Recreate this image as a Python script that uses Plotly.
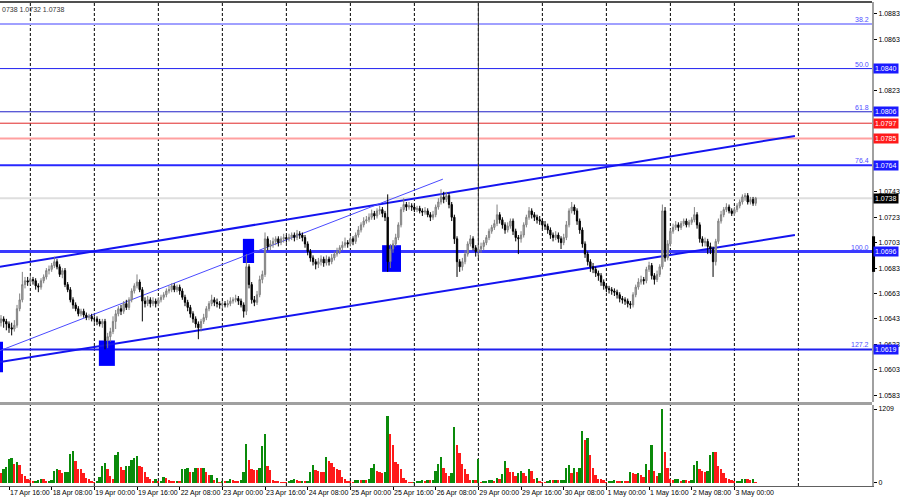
import plotly.graph_objects as go

# ---------------- data (EURUSD H1, 17 Apr 13:00 -> 3 May 08:00) ----------------
first_open = 1.0640
closes = [
    1.0643, 1.0641, 1.0639, 1.0636, 1.0635, 1.0638, 1.0651, 1.0658, 1.0670, 1.0673,
    1.0672, 1.0674, 1.0673, 1.0669, 1.0668, 1.0673, 1.0676, 1.0681, 1.0682, 1.0685,
    1.0688, 1.0684, 1.0678, 1.0681, 1.0670, 1.0666, 1.0658, 1.0654, 1.0651, 1.0647,
    1.0649, 1.0646, 1.0644, 1.0645, 1.0643, 1.0643, 1.0641, 1.0639, 1.0641, 1.0626,
    1.0629, 1.0633, 1.0641, 1.0647, 1.0651, 1.0649, 1.0655, 1.0652, 1.0658, 1.0665,
    1.0669, 1.0672, 1.0666, 1.0657, 1.0655, 1.0658, 1.0655, 1.0657, 1.0655, 1.0658,
    1.0660, 1.0662, 1.0665, 1.0666, 1.0669, 1.0666, 1.0668, 1.0665, 1.0660, 1.0656,
    1.0652, 1.0647, 1.0643, 1.0639, 1.0636, 1.0641, 1.0644, 1.0651, 1.0655, 1.0658,
    1.0656, 1.0655, 1.0654, 1.0655, 1.0654, 1.0655, 1.0657, 1.0658, 1.0659, 1.0657,
    1.0654, 1.0649, 1.0684, 1.0670, 1.0658, 1.0656, 1.0662, 1.0674, 1.0678, 1.0706,
    1.0700, 1.0702, 1.0704, 1.0706, 1.0703, 1.0706, 1.0707, 1.0706, 1.0707, 1.0709,
    1.0707, 1.0710, 1.0709, 1.0707, 1.0702, 1.0696, 1.0691, 1.0688, 1.0686, 1.0688,
    1.0690, 1.0687, 1.0690, 1.0688, 1.0691, 1.0694, 1.0696, 1.0699, 1.0701, 1.0703,
    1.0702, 1.0706, 1.0704, 1.0709, 1.0713, 1.0717, 1.0720, 1.0721, 1.0723, 1.0726,
    1.0724, 1.0728, 1.0729, 1.0726, 1.0723, 1.0688, 1.0698, 1.0702, 1.0707, 1.0717,
    1.0729, 1.0733, 1.0731, 1.0732, 1.0731, 1.0729, 1.0730, 1.0728, 1.0727, 1.0728,
    1.0725, 1.0723, 1.0725, 1.0731, 1.0735, 1.0739, 1.0737, 1.0740, 1.0733, 1.0723,
    1.0706, 1.0688, 1.0684, 1.0688, 1.0694, 1.0702, 1.0706, 1.0699, 1.0696, 1.0698,
    1.0700, 1.0703, 1.0707, 1.0712, 1.0715, 1.0718, 1.0725, 1.0721, 1.0717, 1.0713,
    1.0716, 1.0720, 1.0712, 1.0707, 1.0706, 1.0709, 1.0717, 1.0723, 1.0728, 1.0725,
    1.0723, 1.0721, 1.0720, 1.0717, 1.0716, 1.0713, 1.0709, 1.0707, 1.0709, 1.0706,
    1.0703, 1.0707, 1.0717, 1.0728, 1.0731, 1.0728, 1.0720, 1.0713, 1.0702, 1.0694,
    1.0688, 1.0684, 1.0682, 1.0679, 1.0677, 1.0672, 1.0669, 1.0667, 1.0666, 1.0665,
    1.0664, 1.0662, 1.0659, 1.0658, 1.0657, 1.0655, 1.0654, 1.0662, 1.0668, 1.0672,
    1.0674, 1.0673, 1.0682, 1.0685, 1.0677, 1.0674, 1.0678, 1.0684, 1.0728, 1.0691,
    1.0702, 1.0712, 1.0715, 1.0717, 1.0715, 1.0718, 1.0720, 1.0717, 1.0719, 1.0721,
    1.0725, 1.0717, 1.0706, 1.0703, 1.0704, 1.0700, 1.0698, 1.0688, 1.0704, 1.0720,
    1.0725, 1.0729, 1.0731, 1.0728, 1.0726, 1.0729, 1.0732, 1.0735, 1.0739, 1.0740,
    1.0735, 1.0737, 1.0734, 1.0738,
]
highs = [
    1.0646, 1.0645, 1.0643, 1.0641, 1.0640, 1.0642, 1.0654, 1.0663, 1.0680, 1.0676,
    1.0676, 1.0677, 1.0676, 1.0675, 1.0671, 1.0675, 1.0678, 1.0683, 1.0685, 1.0687,
    1.0692, 1.0690, 1.0686, 1.0683, 1.0683, 1.0672, 1.0668, 1.0660, 1.0656, 1.0653,
    1.0651, 1.0651, 1.0648, 1.0647, 1.0647, 1.0645, 1.0645, 1.0643, 1.0643, 1.0643,
    1.0632, 1.0636, 1.0645, 1.0650, 1.0653, 1.0654, 1.0657, 1.0658, 1.0660, 1.0667,
    1.0671, 1.0678, 1.0674, 1.0668, 1.0660, 1.0661, 1.0660, 1.0660, 1.0659, 1.0660,
    1.0662, 1.0664, 1.0667, 1.0669, 1.0671, 1.0671, 1.0670, 1.0670, 1.0667, 1.0662,
    1.0658, 1.0654, 1.0649, 1.0645, 1.0641, 1.0643, 1.0647, 1.0653, 1.0657, 1.0662,
    1.0660, 1.0659, 1.0657, 1.0657, 1.0657, 1.0658, 1.0660, 1.0660, 1.0662, 1.0661,
    1.0659, 1.0656, 1.0694, 1.0686, 1.0672, 1.0661, 1.0665, 1.0677, 1.0681, 1.0711,
    1.0708, 1.0705, 1.0707, 1.0708, 1.0708, 1.0708, 1.0710, 1.0709, 1.0710, 1.0711,
    1.0711, 1.0713, 1.0712, 1.0711, 1.0709, 1.0704, 1.0698, 1.0693, 1.0690, 1.0691,
    1.0693, 1.0692, 1.0693, 1.0692, 1.0694, 1.0696, 1.0699, 1.0701, 1.0704, 1.0707,
    1.0705, 1.0708, 1.0708, 1.0711, 1.0716, 1.0719, 1.0723, 1.0724, 1.0726, 1.0729,
    1.0728, 1.0730, 1.0732, 1.0731, 1.0728, 1.0741, 1.0702, 1.0705, 1.0710, 1.0719,
    1.0731, 1.0738, 1.0735, 1.0735, 1.0734, 1.0733, 1.0732, 1.0732, 1.0730, 1.0731,
    1.0730, 1.0727, 1.0728, 1.0733, 1.0738, 1.0745, 1.0743, 1.0743, 1.0742, 1.0735,
    1.0725, 1.0708, 1.0690, 1.0691, 1.0697, 1.0704, 1.0709, 1.0708, 1.0701, 1.0701,
    1.0703, 1.0705, 1.0709, 1.0714, 1.0717, 1.0721, 1.0733, 1.0727, 1.0723, 1.0719,
    1.0719, 1.0722, 1.0722, 1.0714, 1.0709, 1.0712, 1.0719, 1.0725, 1.0731, 1.0730,
    1.0727, 1.0725, 1.0724, 1.0722, 1.0720, 1.0718, 1.0715, 1.0711, 1.0712, 1.0711,
    1.0708, 1.0710, 1.0720, 1.0730, 1.0735, 1.0733, 1.0730, 1.0722, 1.0715, 1.0704,
    1.0696, 1.0690, 1.0687, 1.0684, 1.0681, 1.0679, 1.0674, 1.0671, 1.0669, 1.0668,
    1.0667, 1.0666, 1.0664, 1.0661, 1.0660, 1.0659, 1.0657, 1.0664, 1.0670, 1.0675,
    1.0677, 1.0676, 1.0684, 1.0688, 1.0687, 1.0679, 1.0681, 1.0686, 1.0733, 1.0731,
    1.0705, 1.0714, 1.0718, 1.0720, 1.0719, 1.0720, 1.0722, 1.0722, 1.0721, 1.0723,
    1.0731, 1.0727, 1.0719, 1.0708, 1.0707, 1.0706, 1.0703, 1.0700, 1.0706, 1.0722,
    1.0728, 1.0731, 1.0734, 1.0733, 1.0730, 1.0731, 1.0734, 1.0737, 1.0741, 1.0742,
    1.0742, 1.0739, 1.0739, 1.0739,
]
lows = [
    1.0637, 1.0636, 1.0634, 1.0632, 1.0630, 1.0633, 1.0636, 1.0649, 1.0656, 1.0667,
    1.0669, 1.0670, 1.0670, 1.0666, 1.0664, 1.0666, 1.0671, 1.0674, 1.0678, 1.0680,
    1.0683, 1.0682, 1.0676, 1.0675, 1.0668, 1.0664, 1.0656, 1.0651, 1.0649, 1.0645,
    1.0645, 1.0644, 1.0642, 1.0642, 1.0641, 1.0640, 1.0638, 1.0637, 1.0636, 1.0619,
    1.0620, 1.0625, 1.0631, 1.0635, 1.0645, 1.0646, 1.0647, 1.0650, 1.0650, 1.0656,
    1.0663, 1.0667, 1.0664, 1.0641, 1.0652, 1.0653, 1.0652, 1.0653, 1.0652, 1.0653,
    1.0656, 1.0658, 1.0660, 1.0663, 1.0664, 1.0664, 1.0664, 1.0662, 1.0658, 1.0653,
    1.0649, 1.0644, 1.0640, 1.0636, 1.0627, 1.0633, 1.0639, 1.0642, 1.0649, 1.0653,
    1.0653, 1.0652, 1.0651, 1.0651, 1.0652, 1.0652, 1.0653, 1.0655, 1.0656, 1.0654,
    1.0652, 1.0644, 1.0646, 1.0667, 1.0655, 1.0653, 1.0654, 1.0660, 1.0671, 1.0676,
    1.0697, 1.0697, 1.0699, 1.0701, 1.0700, 1.0701, 1.0703, 1.0703, 1.0704, 1.0705,
    1.0704, 1.0705, 1.0706, 1.0704, 1.0699, 1.0693, 1.0688, 1.0685, 1.0682, 1.0683,
    1.0685, 1.0684, 1.0685, 1.0685, 1.0686, 1.0689, 1.0692, 1.0694, 1.0697, 1.0699,
    1.0699, 1.0700, 1.0701, 1.0702, 1.0707, 1.0711, 1.0715, 1.0718, 1.0719, 1.0721,
    1.0721, 1.0722, 1.0725, 1.0723, 1.0720, 1.0680, 1.0683, 1.0695, 1.0700, 1.0705,
    1.0715, 1.0727, 1.0728, 1.0729, 1.0728, 1.0727, 1.0727, 1.0726, 1.0724, 1.0725,
    1.0723, 1.0720, 1.0721, 1.0723, 1.0729, 1.0733, 1.0734, 1.0735, 1.0730, 1.0720,
    1.0702, 1.0676, 1.0680, 1.0681, 1.0686, 1.0692, 1.0700, 1.0697, 1.0692, 1.0693,
    1.0695, 1.0697, 1.0701, 1.0705, 1.0710, 1.0713, 1.0716, 1.0718, 1.0714, 1.0710,
    1.0711, 1.0714, 1.0709, 1.0704, 1.0694, 1.0703, 1.0707, 1.0715, 1.0721, 1.0722,
    1.0720, 1.0718, 1.0717, 1.0714, 1.0713, 1.0710, 1.0706, 1.0704, 1.0705, 1.0703,
    1.0698, 1.0701, 1.0705, 1.0715, 1.0726, 1.0725, 1.0717, 1.0710, 1.0699, 1.0691,
    1.0685, 1.0680, 1.0679, 1.0676, 1.0673, 1.0669, 1.0666, 1.0664, 1.0663, 1.0662,
    1.0661, 1.0659, 1.0656, 1.0655, 1.0654, 1.0652, 1.0651, 1.0652, 1.0660, 1.0666,
    1.0670, 1.0670, 1.0671, 1.0680, 1.0674, 1.0670, 1.0672, 1.0676, 1.0682, 1.0688,
    1.0689, 1.0700, 1.0710, 1.0713, 1.0712, 1.0713, 1.0716, 1.0715, 1.0715, 1.0717,
    1.0719, 1.0714, 1.0703, 1.0700, 1.0700, 1.0694, 1.0694, 1.0676, 1.0685, 1.0702,
    1.0718, 1.0723, 1.0727, 1.0726, 1.0724, 1.0724, 1.0727, 1.0730, 1.0733, 1.0736,
    1.0733, 1.0733, 1.0732, 1.0732,
]
volumes = [
    167, 223, 262, 390, 401, 306, 345, 290, 150, 111,
    72, 50, 28, 39, 50, 67, 61, 39, 40, 45,
    195, 228, 206, 167, 178, 184, 473, 518, 362, 234,
    232, 167, 78, 72, 28, 11, 28, 95, 279, 329,
    228, 106, 72, 462, 501, 267, 217, 273, 275, 368,
    407, 434, 279, 262, 184, 95, 72, 28, 72, 17,
    28, 100, 84, 56, 39, 28, 39, 28, 223, 225,
    240, 178, 184, 251, 240, 239, 251, 184, 123, 128,
    56, 84, 11, 17, 17, 28, 67, 56, 39, 28,
    50, 184, 641, 373, 223, 212, 210, 240, 602, 797,
    273, 206, 50, 39, 17, 11, 10, 6, 17, 50,
    72, 50, 39, 40, 28, 39, 178, 295, 212, 195,
    178, 176, 429, 362, 334, 262, 223, 206, 100, 72,
    28, 17, 11, 50, 56, 50, 52, 45, 67, 251,
    306, 195, 178, 167, 184, 1103, 797, 613, 351, 306,
    234, 84, 56, 11, 6, 11, 28, 39, 45, 39,
    56, 45, 50, 195, 318, 418, 251, 167, 111, 167,
    908, 613, 490, 318, 234, 139, 50, 52, 45, 390,
    11, 17, 28, 50, 56, 39, 84, 72, 150, 362,
    251, 178, 176, 111, 167, 195, 167, 111, 223, 195,
    72, 84, 28, 11, 8, 28, 56, 45, 50, 45,
    50, 56, 251, 295, 162, 251, 178, 251, 852, 696,
    741, 462, 240, 128, 72, 61, 50, 11, 17, 39,
    56, 28, 27, 28, 22, 21, 178, 167, 139, 156,
    128, 95, 306, 206, 624, 195, 111, 156, 1209, 501,
    240, 72, 50, 61, 72, 39, 56, 45, 39, 50,
    290, 362, 234, 195, 184, 195, 457, 512, 507, 279,
    234, 167, 84, 67, 50, 17, 22, 28, 61, 72,
    61, 50, 72, 11,
]
opens = [first_open] + closes[:-1]
bars = list(range(len(closes)))

time_tick_bars = [3, 19, 35, 51, 67, 83, 99, 115, 131, 147, 163, 179, 195, 211, 227, 243, 259, 275]
time_tick_labels = ["17 Apr 16:00", "18 Apr 08:00", "19 Apr 00:00", "19 Apr 16:00", "22 Apr 08:00",
                    "23 Apr 00:00", "23 Apr 16:00", "24 Apr 08:00", "25 Apr 00:00", "25 Apr 16:00",
                    "26 Apr 08:00", "29 Apr 00:00", "29 Apr 16:00", "30 Apr 08:00", "1 May 00:00",
                    "1 May 16:00", "2 May 08:00", "3 May 00:00"]
day_start_bars = [11, 35, 59, 83, 107, 131, 155, 179, 203, 227, 251, 275, 299]

price_ticks = [1.0583, 1.0603, 1.0623, 1.0643, 1.0663, 1.0683, 1.0703, 1.0723,
               1.0743, 1.0763, 1.0783, 1.0803, 1.0823, 1.0843, 1.0863, 1.0883]
# labels hidden behind the coloured price boxes are left blank
price_tick_labels = ["1.0583", "1.0603", "1.0623", "1.0643", "1.0663", "1.0683", "1.0703", "1.0723",
                     "1.0743", "", "", "", "1.0823", "", "1.0863", "1.0883"]
volume_ticks = [0, 1209]
volume_tick_labels = ["0", "1209"]

fib_levels = [1.0875, 1.0840, 1.0806, 1.0764, 1.0696, 1.0619]
fib_names = ["38.2", "50.0", "61.8", "76.4", "100.0", "127.2"]
red_levels = [1.0797, 1.0785]
last_price = 1.0738

upper_channel = [(-0.4, 1.0684), (297.7, 1.0787)]
lower_channel = [(-0.4, 1.0609), (297.7, 1.0709)]
thin_line = [(-0.4, 1.0618), (165.7, 1.0753)]
zones = [(-0.4, 0.75, 1.0601, 1.0625), (36.7, 42.7, 1.0606, 1.0626),
         (90.7, 94.9, 1.0687, 1.0706), (142.9, 150.0, 1.0680, 1.0701)]
marker_bar = 179
marker_from = 1.0690

# ---------------- styles ----------------
FONT = "Liberation Sans"
BLUE = "#1a1aff"
RED = "#ff1a1a"

vol_colors = []
for k, v in enumerate(volumes):
    if k > 0 and v > volumes[k - 1]:
        vol_colors.append("#0a8a0a")
    else:
        vol_colors.append("#ff1a1a")

fig = go.Figure()
fig.add_trace(go.Candlestick(
    x=bars, open=opens, high=highs, low=lows, close=closes,
    increasing=dict(line=dict(color="#808080", width=1), fillcolor="#b4b4b4"),
    decreasing=dict(line=dict(color="#000000", width=1), fillcolor="#000000"),
    whiskerwidth=0, xaxis="x", yaxis="y", hoverinfo="skip"))
fig.add_trace(go.Bar(x=bars, y=volumes, marker=dict(color=vol_colors, line=dict(width=0)),
                     width=0.7, xaxis="x2", yaxis="y2", hoverinfo="skip"))

shapes = []
for b in day_start_bars:
    shapes.append(dict(type="line", xref="x", yref="paper", x0=b, x1=b, y0=0, y1=1,
                       line=dict(color="#000000", width=1, dash="3px,2px"), layer="below"))
level_styles = {1.0875: ("#a0a0ff", 2), 1.0840: ("#2020f0", 1), 1.0806: ("#2020c8", 1),
                1.0764: ("#2828ff", 2), 1.0696: ("#3a3aff", 3), 1.0619: ("#2020ee", 2)}
for lv in fib_levels:
    c, w = level_styles[lv]
    shapes.append(dict(type="line", xref="paper", yref="y", x0=0, x1=1, y0=lv, y1=lv,
                       line=dict(color=c, width=w), layer="below"))
shapes.append(dict(type="line", xref="paper", yref="y", x0=0, x1=1, y0=red_levels[0], y1=red_levels[0],
                   line=dict(color="#e02828", width=1), layer="below"))
shapes.append(dict(type="line", xref="paper", yref="y", x0=0, x1=1, y0=red_levels[1], y1=red_levels[1],
                   line=dict(color="#ffa0a0", width=2), layer="below"))
shapes.append(dict(type="line", xref="paper", yref="y", x0=0, x1=1, y0=last_price, y1=last_price,
                   line=dict(color="#dedede", width=2), layer="below"))
for x0, x1, y0, y1 in zones:
    shapes.append(dict(type="rect", xref="x", yref="y", x0=x0, x1=x1, y0=y0, y1=y1,
                       fillcolor="#0000ff", line=dict(width=0), layer="below"))
for pts, w, c in [(upper_channel, 2, "#1414f0"), (lower_channel, 2, "#1414f0"), (thin_line, 1, "#4a4aff")]:
    shapes.append(dict(type="line", xref="x", yref="y", x0=pts[0][0], y0=pts[0][1], x1=pts[1][0], y1=pts[1][1],
                       line=dict(color=c, width=w), layer="below"))
shapes.append(dict(type="line", xref="x", yref="y", x0=marker_bar, x1=marker_bar, y0=marker_from, y1=1.0893,
                   line=dict(color="#303030", width=1), layer="below"))
shapes.append(dict(type="rect", xref="paper", yref="paper", x0=0, x1=1, y0=0.1674, y1=0.1736,
                   fillcolor="#a0a0a0", line=dict(width=0), layer="above"))
shapes.append(dict(type="line", xref="paper", yref="paper", x0=0, x1=1, y0=1, y1=1,
                   line=dict(color="#505050", width=2), layer="above"))
shapes.append(dict(type="rect", xref="paper", yref="y", x0=1.0, x1=1.0035, y0=1.0680, y1=1.0708,
                   fillcolor="#000000", line=dict(width=0), layer="above"))

annotations = []
annotations.append(dict(xref="paper", yref="paper", x=0, y=1, xanchor="left", yanchor="top", yshift=-2,
                        text="0738 1.0732 1.0738", showarrow=False, font=dict(family=FONT, size=7, color="#333333")))
for lv, name in zip(fib_levels, fib_names):
    annotations.append(dict(xref="paper", yref="y", x=1, y=lv, xanchor="right", yanchor="bottom",
                            xshift=-1, yshift=-1, text=name, showarrow=False,
                            font=dict(family=FONT, size=7, color="#5050ff")))
price_boxes = [(1.0840, BLUE), (1.0806, BLUE), (1.0797, RED), (1.0785, RED), (1.0764, BLUE),
               (last_price, "#000000"), (1.0696, BLUE), (1.0619, BLUE)]
for p, c in price_boxes:
    annotations.append(dict(xref="paper", yref="y", x=1, y=p, xanchor="left", yanchor="middle",
                            xshift=1, text="%.4f" % p, showarrow=False, bgcolor=c, borderpad=1,
                            font=dict(family=FONT, size=7, color="#ffffff")))

fig.update_layout(
    width=900, height=500, margin=dict(l=0, r=28, t=2, b=14, autoexpand=False),
    paper_bgcolor="#ffffff", plot_bgcolor="#ffffff", showlegend=False,
    bargap=0, shapes=shapes, annotations=annotations,
    font=dict(family=FONT, size=7, color="#000000"),
    xaxis=dict(domain=[0, 1], range=[-0.375, 326.6], anchor="y", showticklabels=False,
               showgrid=False, zeroline=False, rangeslider=dict(visible=False), ticks="",
               automargin=False),
    xaxis2=dict(domain=[0, 1], range=[-0.375, 326.6], anchor="y2", matches="x",
                tickmode="array", tickvals=time_tick_bars, ticktext=time_tick_labels,
                ticklabelposition="outside right", tickangle=0, ticks="outside", ticklen=3,
                tickcolor="#000000", automargin=False,
                showgrid=False, zeroline=False, showline=True, linecolor="#606060", linewidth=1,
                tickfont=dict(family=FONT, size=7, color="#000000")),
    yaxis=dict(domain=[0.1736, 1], range=[1.05776, 1.08924], side="right", anchor="x",
               tickmode="array", tickvals=price_ticks, ticktext=price_tick_labels,
               ticks="outside", ticklen=3, tickcolor="#000000", showgrid=False, zeroline=False,
               showline=True, linecolor="#a0a0a0", linewidth=2, automargin=False,
               tickfont=dict(family=FONT, size=7, color="#000000")),
    yaxis2=dict(domain=[0, 0.1674], range=[-50, 1275], side="right", anchor="x2",
                tickmode="array", tickvals=volume_ticks, ticktext=volume_tick_labels,
                ticks="outside", ticklen=3, tickcolor="#000000", showgrid=False, zeroline=False,
                showline=True, linecolor="#a0a0a0", linewidth=2, automargin=False,
                tickfont=dict(family=FONT, size=7, color="#000000")),
)

fig.write_html("out.html", config={"displayModeBar": False},
               post_script="document.body.style.margin='0';document.body.style.overflow='hidden';")
